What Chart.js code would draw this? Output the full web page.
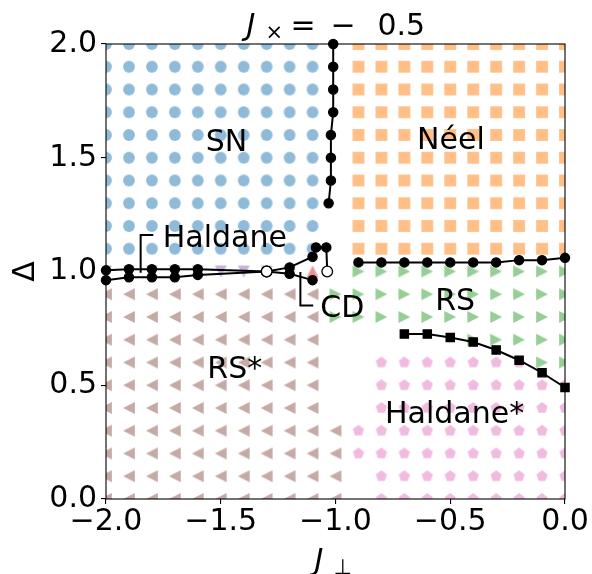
<!DOCTYPE html>
<html>
<head>
<meta charset="utf-8">
<script src="https://cdn.jsdelivr.net/npm/chart.js@4.4.1/dist/chart.umd.min.js"></script>
<style>
    html, body { margin: 0; padding: 0; background: #fff; }
    canvas { display: block; }
</style>
</head>
<body>
<canvas id="phase-chart" width="592" height="574"></canvas>
<script>
// grid of computed points
const jPerp = [-2.0, -1.9, -1.8, -1.7, -1.6, -1.5, -1.4, -1.3, -1.2, -1.1, -1.0,
               -0.9, -0.8, -0.7, -0.6, -0.5, -0.4, -0.3, -0.2, -0.1, 0.0];
const delta = [2.0, 1.9, 1.8, 1.7, 1.6, 1.5, 1.4, 1.3, 1.2, 1.1, 1.0,
               0.9, 0.8, 0.7, 0.6, 0.5, 0.4, 0.3, 0.2, 0.1, 0.0];

// one row per delta, one char per jPerp
// S = SN, N = Neel, H = Haldane, C = CD, R = RS, r = RS*, h = Haldane*, . = nothing
const phaseMap = [
    'SSSSSSSSSS.NNNNNNNNNN', // 2.0
    'SSSSSSSSSS.NNNNNNNNNN', // 1.9
    'SSSSSSSSSS.NNNNNNNNNN', // 1.8
    'SSSSSSSSSS.NNNNNNNNNN', // 1.7
    'SSSSSSSSSS.NNNNNNNNNN', // 1.6
    'SSSSSSSSSS.NNNNNNNNNN', // 1.5
    'SSSSSSSSSS.NNNNNNNNNN', // 1.4
    'SSSSSSSSSS.NNNNNNNNNN', // 1.3
    'SSSSSSSSSS.NNNNNNNNNN', // 1.2
    'SSSSSSSSSS.NNNNNNNNNN', // 1.1
    'HHHHHHHHHC.RRRRRRRRRR', // 1.0
    'rrrrrrrrrrRRRRRRRRRRR', // 0.9
    'rrrrrrrrrrRRRRRRRRRRR', // 0.8
    'rrrrrrrrrr......RRRRR', // 0.7
    'rrrrrrrrrr..hhhhhhhRR', // 0.6
    'rrrrrrrrrr..hhhhhhhhh', // 0.5
    'rrrrrrrrrr..hhhhhhhhh', // 0.4
    'rrrrrrrrrrrhhhhhhhhhh', // 0.3
    'rrrrrrrrrrrhhhhhhhhhh', // 0.2
    'rrrrrrrrrrr.hhhhhhhhh', // 0.1
    'rrrrrrrrrrr.hhhhhhhhh'  // 0.0
];

// phase boundaries
const snNeelJ = [-1.01, -1.01, -1.01, -1.01, -1.02, -1.02, -1.02, -1.03];
const snNeelD = [2.0, 1.9, 1.8, 1.7, 1.6, 1.5, 1.4, 1.3];
const neelRsJ = [-0.9, -0.8, -0.7, -0.6, -0.5, -0.4, -0.3, -0.2, -0.1, 0.0];
const neelRsD = [1.04, 1.04, 1.04, 1.04, 1.04, 1.04, 1.04, 1.05, 1.05, 1.06];
const rsHaldJ = [-0.7, -0.6, -0.5, -0.4, -0.3, -0.2, -0.1, 0.0];
const rsHaldD = [0.725, 0.725, 0.71, 0.69, 0.655, 0.61, 0.555, 0.49];
const upperJ = [-2.0, -1.9, -1.8, -1.7, -1.6, -1.3, -1.2, -1.1, -1.085, -1.04, -1.036];
const upperD = [1.005, 1.01, 1.01, 1.01, 1.01, 1.0, 1.018, 1.065, 1.106, 1.106, 1.0];
const upperOpen = [0, 0, 0, 0, 0, 1, 0, 0, 0, 0, 1];
const lowerJ = [-2.0, -1.9, -1.8, -1.7, -1.6, -1.3, -1.2, -1.1];
const lowerD = [0.962, 0.975, 0.975, 0.975, 0.985, 1.0, 0.99, 0.962];
const lowerOpen = [0, 0, 0, 0, 0, 1, 0, 0];

// region labels (baseline, centred)
const labelText = ['SN', 'Néel', 'Haldane', 'RS', 'CD', 'RS*', 'Haldane*'];
const labelJ = [-1.475, -0.497, -1.482, -0.479, -0.970, -1.439, -0.481];
const labelD = [1.531, 1.537, 1.106, 0.831, 0.801, 0.531, 0.333];

const xTicks = [-2.0, -1.5, -1.0, -0.5, 0.0];
const yTicks = [0.0, 0.5, 1.0, 1.5, 2.0];

const FONT = '"DejaVu Sans", sans-serif';

const phases = {
    S: { shape: 'o', color: 'rgba(31,119,180,0.5)' },
    N: { shape: 's', color: 'rgba(255,127,14,0.5)' },
    R: { shape: '>', color: 'rgba(44,160,44,0.5)' },
    C: { shape: '^', color: 'rgba(214,39,40,0.5)' },
    H: { shape: 'v', color: 'rgba(148,103,189,0.5)' },
    r: { shape: '<', color: 'rgba(140,86,75,0.5)' },
    h: { shape: 'p', color: 'rgba(227,119,194,0.5)' }
};

// matplotlib-like marker as a small canvas
function markerImage(shape, color) {
    const size = 14, c = 7, m = 5.9;
    const cv = document.createElement('canvas');
    cv.width = size; cv.height = size;
    const g = cv.getContext('2d');
    g.fillStyle = color;
    g.beginPath();
    if (shape === 'o') {
        g.arc(c, c, m, 0, Math.PI * 2);
    } else if (shape === 's') {
        g.rect(c - m, c - m, 2 * m, 2 * m);
    } else if (shape === '^') {
        g.moveTo(c, c - m); g.lineTo(c - m, c + m); g.lineTo(c + m, c + m);
    } else if (shape === 'v') {
        g.moveTo(c, c + m); g.lineTo(c - m, c - m); g.lineTo(c + m, c - m);
    } else if (shape === '<') {
        g.moveTo(c - m, c); g.lineTo(c + m, c - m); g.lineTo(c + m, c + m);
    } else if (shape === '>') {
        g.moveTo(c + m, c); g.lineTo(c - m, c - m); g.lineTo(c - m, c + m);
    } else if (shape === 'p') {
        for (let k = 0; k < 5; k++) {
            const a = -Math.PI / 2 + k * 2 * Math.PI / 5;
            g.lineTo(c + m * Math.cos(a), c + m * Math.sin(a));
        }
    }
    g.closePath();
    g.fill();
    return cv;
}

function toPoints(xs, ys) {
    return xs.map((x, i) => ({ x: x, y: ys[i] }));
}

const datasets = [];

// boundary lines on top
function addLine(xs, ys, open, style) {
    datasets.push({
        data: toPoints(xs, ys),
        showLine: true,
        borderColor: '#000',
        borderWidth: 2,
        pointStyle: style || 'circle',
        pointRadius: xs.map((x, i) => style === 'rect' ? 5.8 : (open && open[i] ? 5.3 : 4.6)),
        pointBorderWidth: 1.3,
        pointBorderColor: '#000',
        pointBackgroundColor: xs.map((x, i) => open && open[i] ? '#fff' : '#000'),
        clip: false,
        order: 0
    });
}
addLine(snNeelJ, snNeelD);
addLine(neelRsJ, neelRsD);
addLine(rsHaldJ, rsHaldD, null, 'rect');
addLine(lowerJ, lowerD, lowerOpen);
addLine(upperJ, upperD, upperOpen);

for (const code in phases) {
    const pts = [];
    phaseMap.forEach((row, i) => {
        for (let j = 0; j < row.length; j++) {
            if (row[j] === code) pts.push({ x: jPerp[j], y: delta[i] });
        }
    });
    datasets.push({
        data: pts,
        showLine: false,
        pointStyle: markerImage(phases[code].shape, phases[code].color),
        pointRadius: 7,
        clip: 0,
        order: 1
    });
}

function fmt(v) {
    return (v < 0 ? '\u2212' : '') + Math.abs(v).toFixed(1);
}

// frame, labels, brackets, titles
const decorations = {
    id: 'decorations',
    afterDatasetsDraw(chart) {
        const a = chart.chartArea;
        const ctx = chart.ctx;
        ctx.save();
        ctx.strokeStyle = '#000';
        ctx.lineWidth = 1.1;
        ctx.strokeRect(a.left, a.top, a.right - a.left, a.bottom - a.top);
        ctx.restore();
    },
    afterDraw(chart) {
        const ctx = chart.ctx;
        const xs = chart.scales.x, ys = chart.scales.y;
        const mid = (chart.chartArea.left + chart.chartArea.right) / 2;
        ctx.save();
        ctx.fillStyle = '#000';
        ctx.strokeStyle = '#000';

        // annotation brackets
        ctx.lineWidth = 2;
        const brackets = [
            [[-1.849, 0.995], [-1.849, 1.160], [-1.794, 1.160]],
            [[-1.153, 0.998], [-1.153, 0.851], [-1.097, 0.851]]
        ];
        brackets.forEach(b => {
            ctx.beginPath();
            b.forEach((p, i) => {
                const px = xs.getPixelForValue(p[0]), py = ys.getPixelForValue(p[1]);
                if (i === 0) ctx.moveTo(px, py); else ctx.lineTo(px, py);
            });
            ctx.stroke();
        });

        ctx.font = '30px ' + FONT;
        ctx.textAlign = 'center';
        ctx.textBaseline = 'alphabetic';
        labelText.forEach((t, i) => {
            ctx.fillText(t, xs.getPixelForValue(labelJ[i]), ys.getPixelForValue(labelD[i]));
        });

        // title J_x = -0.5
        const italic = 'italic 30px ' + FONT, normal = '30px ' + FONT, small = '21px ' + FONT;
        ctx.textAlign = 'left';
        const tb = 35;
        ctx.font = italic; ctx.fillText('J', mid - 89, tb);
        ctx.font = small; ctx.fillText('\u00d7', mid - 70, tb + 4);
        ctx.font = normal;
        ctx.fillText('=', mid - 45, tb);
        ctx.fillText('\u2212', mid - 5, tb);
        ctx.fillText('0.5', mid + 42, tb);

        // x label J_perp
        ctx.font = italic; ctx.fillText('J', mid - 21, 570);
        ctx.font = small; ctx.fillText('\u22a5', mid - 2, 574);

        // y label Delta
        ctx.translate(23, (chart.chartArea.top + chart.chartArea.bottom) / 2);
        ctx.rotate(-Math.PI / 2);
        ctx.font = normal;
        ctx.textAlign = 'center';
        ctx.fillText('\u0394', 0, 11);
        ctx.restore();
    }
};

const tickFont = { family: FONT, size: 30 };

new Chart(document.getElementById('phase-chart').getContext('2d'), {
    type: 'scatter',
    data: { datasets: datasets },
    options: {
        responsive: false,
        devicePixelRatio: 1,
        animation: false,
        events: [],
        layout: { padding: { left: 0, right: 27, top: 44, bottom: 0 } },
        plugins: { legend: { display: false }, tooltip: { enabled: false } },
        scales: {
            x: {
                type: 'linear', min: -2, max: 0,
                afterFit: function(s) { s.height = 75; },
                afterBuildTicks: function(s) { s.ticks = xTicks.map(v => ({ value: v })); },
                ticks: { color: '#000', font: tickFont, padding: 0, maxRotation: 0, callback: fmt },
                grid: { drawOnChartArea: false, tickLength: 5, color: '#000', lineWidth: 1.1 },
                border: { display: false }
            },
            y: {
                type: 'linear', min: 0, max: 2,
                afterFit: function(s) { s.width = 106; },
                afterBuildTicks: function(s) { s.ticks = yTicks.map(v => ({ value: v })); },
                ticks: { color: '#000', font: tickFont, padding: 4, callback: fmt },
                grid: { drawOnChartArea: false, tickLength: 5, color: '#000', lineWidth: 1.1 },
                border: { display: false }
            }
        }
    },
    plugins: [decorations]
});
</script>
</body>
</html>
